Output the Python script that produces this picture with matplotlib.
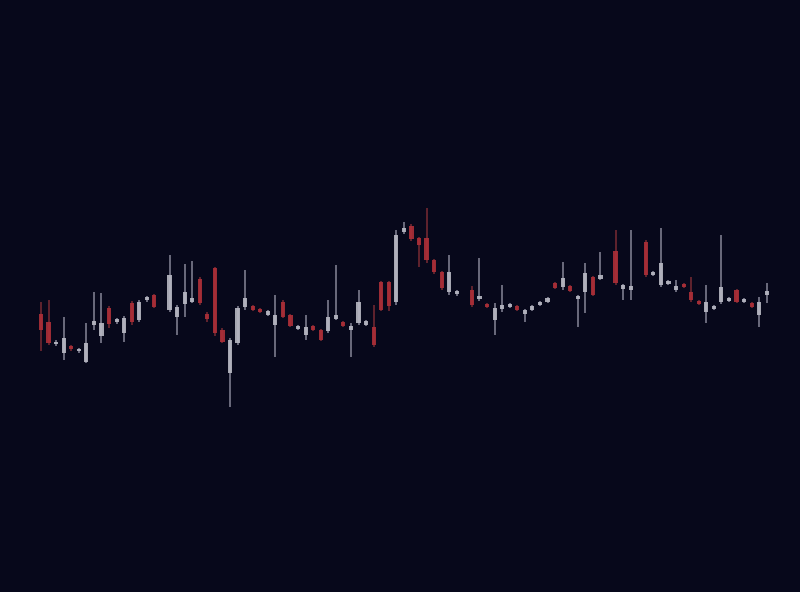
import matplotlib
matplotlib.use("Agg")
import matplotlib.pyplot as plt

# trading-day index of each candle (a few days are absent)
day = [0, 1, 2, 3, 4, 5, 6, 7, 8, 9, 10, 11, 12, 13, 14, 15,
       17, 18, 19, 20, 21, 22, 23, 24, 25, 26, 27, 28, 29, 30,
       31, 32, 33, 34, 35, 36, 37, 38, 39, 40, 41, 42, 43, 44, 45,
       46, 47, 48, 49, 50, 51, 52, 53, 54, 55,
       57, 58, 59, 60, 61, 62, 63, 64, 65, 66, 67, 68, 69, 70, 71,
       72, 73, 74, 76, 77, 78,
       80, 81, 82, 83, 84, 85, 86, 87, 88, 89, 90, 91, 92, 93, 94, 95, 96]

open_ = [28.6, 27.8, 25.6, 24.7, 25.4, 24.9, 23.8, 27.5, 26.4, 29.2, 27.8, 26.7, 29.7, 28.0, 30.0, 30.5,
         29.0, 28.3, 29.6, 29.8, 32.1, 28.6, 33.2, 27.0, 22.7, 25.7, 29.3, 29.4, 29.1, 28.5,
         27.5, 29.8, 28.5, 27.1, 26.5, 27.4, 27.0, 26.9, 28.1, 27.8, 27.0, 27.7, 27.5, 27.3, 31.8,
         31.8, 29.8, 36.8, 37.4, 36.2, 36.2, 34.0, 32.8, 30.8, 30.6,
         31.0, 30.1, 29.6, 28.0, 29.1, 29.3, 29.4, 28.6, 29.0, 29.5, 29.8, 31.7, 31.3, 31.4, 30.1,
         30.8, 32.3, 32.1, 34.9, 31.1, 31.0,
         35.8, 32.5, 31.5, 31.6, 31.0, 31.6, 30.8, 29.9, 28.8, 29.1, 29.8, 29.9, 31.0, 29.8, 29.7, 28.5, 30.5]

high = [29.8, 30.0, 26.0, 28.3, 25.5, 25.2, 27.7, 30.8, 30.7, 29.4, 28.2, 28.4, 29.9, 30.0, 30.4, 30.6,
        34.5, 29.5, 33.6, 33.9, 32.3, 28.8, 33.3, 27.2, 26.2, 29.4, 33.0, 29.5, 29.2, 29.0,
        30.5, 30.0, 28.6, 27.5, 28.5, 27.5, 27.1, 30.0, 33.5, 27.9, 27.7, 31.0, 28.0, 29.5, 31.9,
        31.9, 37.0, 37.8, 37.6, 36.3, 39.2, 34.1, 32.9, 34.5, 31.0,
        31.4, 34.2, 29.7, 29.7, 31.5, 29.7, 29.5, 29.1, 29.5, 29.9, 30.3, 31.8, 33.8, 31.5, 30.5,
        33.7, 32.4, 34.8, 37.0, 31.6, 37.0,
        36.0, 32.9, 37.2, 32.0, 32.0, 31.7, 32.3, 30.0, 31.5, 29.5, 36.5, 30.3, 31.1, 30.2, 29.8, 30.3, 31.7]

low = [24.9, 25.5, 25.4, 24.0, 24.9, 24.7, 23.7, 27.0, 25.7, 27.2, 27.6, 25.8, 27.5, 27.8, 29.8, 29.2,
       28.8, 26.5, 28.3, 29.7, 29.5, 27.8, 26.4, 25.7, 19.3, 25.5, 29.0, 28.9, 28.7, 28.4,
       24.3, 28.2, 27.3, 27.0, 26.0, 26.9, 25.9, 26.7, 28.0, 27.3, 24.3, 27.5, 27.4, 25.3, 28.9,
       28.9, 29.5, 36.6, 35.9, 33.3, 33.7, 32.6, 31.0, 30.5, 30.4,
       29.3, 29.9, 29.2, 26.5, 28.8, 29.2, 28.9, 27.8, 28.9, 29.4, 29.7, 31.1, 31.0, 30.8, 27.3,
       28.7, 30.4, 32.0, 31.5, 30.0, 30.0,
       32.3, 32.4, 31.3, 31.5, 30.8, 31.2, 29.8, 29.5, 27.7, 29.0, 29.6, 29.8, 29.7, 29.7, 29.2, 27.3, 29.7]

close = [27.0, 25.7, 25.8, 26.2, 25.1, 25.1, 25.7, 27.9, 27.7, 27.6, 28.1, 28.2, 27.8, 29.8, 30.3, 29.3,
         32.5, 29.3, 30.8, 30.2, 29.7, 28.1, 26.7, 25.8, 26.0, 29.2, 30.2, 29.0, 28.8, 28.9,
         28.5, 28.3, 27.4, 27.4, 27.3, 27.0, 26.0, 28.3, 28.5, 27.4, 27.4, 29.8, 27.9, 25.5, 29.0,
         29.4, 36.5, 37.2, 36.1, 35.5, 34.0, 32.8, 31.2, 32.8, 30.9,
         29.5, 30.4, 29.3, 29.2, 29.5, 29.6, 29.0, 29.0, 29.4, 29.8, 30.2, 31.2, 32.2, 30.9, 30.4,
         32.7, 30.5, 32.5, 31.7, 31.5, 31.4,
         32.5, 32.8, 33.7, 31.9, 31.4, 31.3, 30.0, 29.6, 29.8, 29.4, 31.3, 30.2, 29.8, 30.1, 29.3, 29.8, 30.9]

BG = "#07081b"
UP_BODY = "#b9b9c4"
UP_WICK = "#7f7f90"
DN_BODY = "#ad2f38"
DN_WICK = "#732832"

fig = plt.figure(figsize=(8.0, 5.92), dpi=100, facecolor=BG)
ax = fig.add_axes([0, 0, 1, 1])
ax.set_facecolor(BG)

body_w = 0.55
for d, o, h, l, c in zip(day, open_, high, low, close):
    up = c >= o
    wc = UP_WICK if up else DN_WICK
    bc = UP_BODY if up else DN_BODY
    ax.vlines(d, l, h, color=wc, linewidth=1.3, alpha=0.9, zorder=2)
    lo, hi = min(o, c), max(o, c)
    ax.bar(d, max(hi - lo, 0.25), bottom=lo, width=body_w, color=bc,
           alpha=0.9, linewidth=0, zorder=3)

ax.set_xlim(-41 / 7.56, (800 - 41) / 7.56)
ax.set_ylim(0.8, 60)
ax.axis("off")

fig.savefig("out.png", dpi=100, facecolor=BG)
